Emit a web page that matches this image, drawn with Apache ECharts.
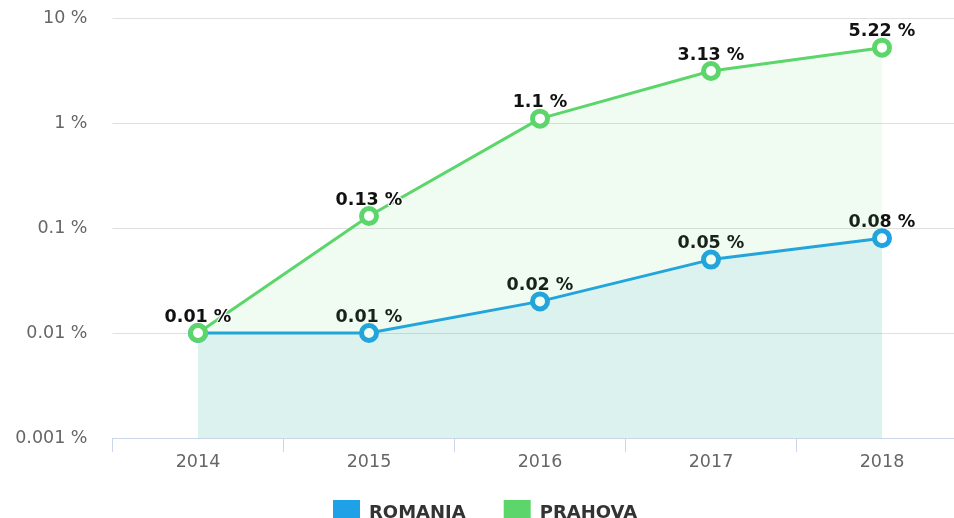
<!DOCTYPE html>
<html>
<head>
<meta charset="utf-8">
<script src="https://cdn.jsdelivr.net/npm/echarts@6/dist/echarts.min.js"></script>
<style>
  html, body { margin: 0; padding: 0; background: #fff; overflow: hidden; }
  /* the plot area continues a little past the right edge of the window */
  #chart { width: 968px; height: 518px; }
</style>
</head>
<body>
<div id="chart"></div>
<script>
// Years on the category axis
const years = ['2014', '2015', '2016', '2017', '2018'];
// Share values in percent
const romania = [0.01, 0.01, 0.02, 0.05, 0.08];
const prahova = [0.01, 0.13, 1.1, 3.13, 5.22];
const seriesNames = ['ROMANIA', 'PRAHOVA'];
const colors = ['#1ea1e6', '#5cd66a'];

const font = 'DejaVu Sans';

function fmtPct(v) {
  return (+v.toPrecision(6)) + ' %';
}

function lineSeries(name, data, color, z, fillOpacity) {
  return {
    name: name,
    type: 'line',
    data: data,
    z: z,
    symbol: 'circle',
    symbolSize: 15,
    lineStyle: { color: color, width: 3 },
    itemStyle: { color: '#fff', borderColor: color, borderWidth: 5 },
    areaStyle: { color: color, opacity: fillOpacity, origin: 'start' },
    label: {
      show: true,
      position: 'top',
      distance: -3,
      fontFamily: font,
      fontWeight: 'bold',
      fontSize: 17.5,
      color: '#111',
      textBorderColor: '#fff',
      textBorderWidth: 2,
      formatter: p => fmtPct(p.value)
    },
    emphasis: { disabled: true }
  };
}

const chart = echarts.init(document.getElementById('chart'), null, { renderer: 'canvas' });
chart.setOption({
  animation: false,
  color: colors,
  grid: { left: 112.5, right: 0.5, top: 18, bottom: 80, containLabel: false },
  legend: {
    top: 495,
    left: 328,
    itemWidth: 27,
    itemHeight: 26,
    itemGap: 38,
    icon: 'rect',
    data: seriesNames.map((n, i) => ({ name: n, itemStyle: { color: colors[i], borderWidth: 0 } })),
    textStyle: { fontFamily: font, fontWeight: 'bold', fontSize: 18, color: '#333', padding: [0, 0, 0, 4] }
  },
  xAxis: {
    type: 'category',
    data: years,
    boundaryGap: true,
    axisLine: { lineStyle: { color: '#ccd6eb', width: 1 } },
    axisTick: { show: true, length: 14, lineStyle: { color: '#ccd6eb' } },
    axisLabel: { margin: 15, fontFamily: font, fontSize: 17.5, color: '#666' },
    splitLine: { show: false }
  },
  yAxis: {
    type: 'log',
    logBase: 10,
    min: 0.001,
    max: 10,
    axisLine: { show: false },
    axisTick: { show: false },
    axisLabel: { margin: 25, fontFamily: font, fontSize: 17.5, color: '#666', formatter: v => fmtPct(v) },
    splitLine: { lineStyle: { color: '#e0e0e0', width: 1 } }
  },
  series: [
    lineSeries(seriesNames[0], romania, colors[0], 2, 0.1),
    lineSeries(seriesNames[1], prahova, colors[1], 3, 0.09)
  ]
});
</script>
</body>
</html>
